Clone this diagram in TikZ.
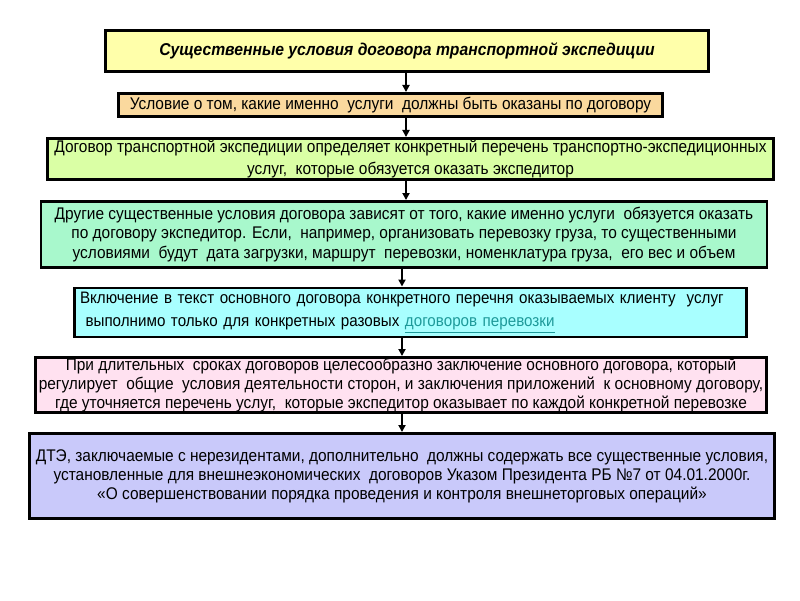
\documentclass[tikz,border=0pt]{standalone}
\usepackage{fontspec}
\setmainfont{Liberation Sans}[FakeStretch=0.915]
\usepackage{tikz}
\usetikzlibrary{positioning, arrows.meta, calc}

\definecolor{titlefill}{HTML}{FFFFAA}
\definecolor{condfill}{HTML}{FAD99E}
\definecolor{listfill}{HTML}{DAFFA5}
\definecolor{otherfill}{HTML}{A8F8CC}
\definecolor{inclfill}{HTML}{A8FFFF}
\definecolor{longfill}{HTML}{FFE1F0}
\definecolor{dtefill}{HTML}{C9C9FA}
\definecolor{linkcol}{HTML}{1E9A9A}

\begin{document}
\begin{tikzpicture}[
  x=0.025cm, y=-0.025cm,
  font=\fontsize{12}{13.8}\selectfont,
  box/.style={draw, line width=2.1pt, align=center, inner sep=0pt},
  size/.style 2 args={minimum width=#1*0.025cm, minimum height=#2*0.025cm},
  arr/.style={-{Triangle[length=5pt, width=5pt]}, line width=1.4pt},
  >=Latex
]
\useasboundingbox (0,0) rectangle (800,600);
% chain of conditions, top to bottom
\node[box, fill=titlefill, size={603}{41}, font=\fontsize{12.2}{14}\selectfont\bfseries\itshape] (title) at (407,51)
  {Существенные условия договора транспортной экспедиции};
\node[box, fill=condfill, size={544}{23}] (cond) at (390.5,105)
  {Условие о том, какие именно \ услуги \ должны быть оказаны по договору};
\node[box, fill=listfill, size={726}{41}, font=\fontsize{12}{15}\selectfont] (list) at (410.5,159)
  {Договор транспортной экспедиции определяет конкретный перечень транспортно-экспедиционных\\
   услуг, \ которые обязуется оказать экспедитор};
\node[box, fill=otherfill, size={726}{66}] (other) at (404,234.5)
  {Другие существенные условия договора зависят от того, какие именно услуги \ обязуется оказать\\
   по договору экспедитор. Если, \ например, организовать перевозку груза, то существенными\\
   условиями \ будут \ дата загрузки, маршрут \ перевозки, номенклатура груза, \ его вес и объем};
\node[box, fill=inclfill, size={672}{49}, align=left, text width=661*0.025cm, font=\fontsize{11.8}{16.4}\selectfont] (incl) at (410.5,312.5)
  {Включение в текст основного договора конкретного перечня оказываемых клиенту \ услуг\\
   \ выполнимо только для конкретных разовых {\color{linkcol}\underline{договоров перевозки}}};
\node[box, fill=longfill, size={731}{55}, font=\fontsize{12}{13.2}\selectfont] (long) at (401,385)
  {При длительных \ сроках договоров целесообразно заключение основного договора, который\\
   регулирует \ общие \ условия деятельности сторон, и заключения приложений \ к основному договору,\\
   где уточняется перечень услуг, \ которые экспедитор оказывает по каждой конкретной перевозке};
\node[box, fill=dtefill, size={745}{85}, font=\fontsize{12}{13.5}\selectfont] (dte) at (402,476)
  {ДТЭ, заключаемые с нерезидентами, дополнительно \ должны содержать все существенные условия,\\
   установленные для внешнеэкономических \ договоров Указом Президента РБ №7 от 04.01.2000г.\\
   «О совершенствовании порядка проведения и контроля внешнеторговых операций»};
% arrow columns
\coordinate (ca) at (406,0);
\coordinate (cb) at (402,0);
\draw[arr] (title.south -| ca) -- (cond.north -| ca);
\draw[arr] (cond.south -| ca) -- (list.north -| ca);
\draw[arr] (list.south -| ca) -- (other.north -| ca);
\draw[arr] (other.south -| cb) -- (incl.north -| cb);
\draw[arr] (incl.south -| cb) -- (long.north -| cb);
\draw[arr] (long.south -| cb) -- (dte.north -| cb);
\end{tikzpicture}
\end{document}
